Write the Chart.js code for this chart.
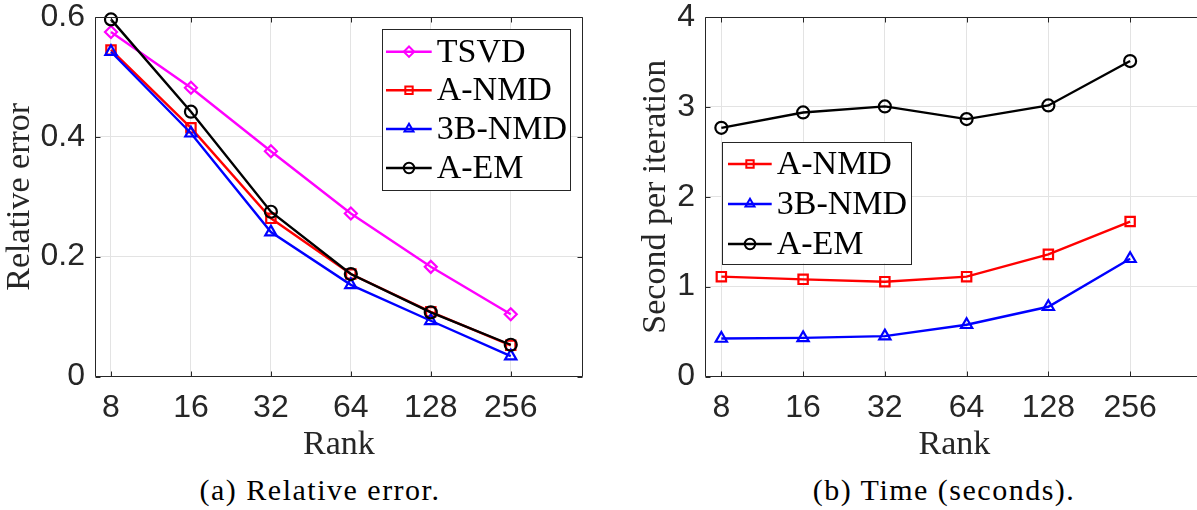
<!DOCTYPE html>
<html><head><meta charset="utf-8">
<script src="https://cdn.jsdelivr.net/npm/chart.js@4.4.1/dist/chart.umd.min.js"></script>
<style>
html,body{margin:0;padding:0;background:#fff;overflow:hidden;width:1197px;height:510px;}
#wrap{position:relative;width:1197px;height:510px;overflow:hidden;}
.cv{position:absolute;top:0;}
.cap{position:absolute;font-family:"Liberation Serif",serif;font-size:30px;letter-spacing:1.5px;color:#000;white-space:nowrap;transform:translate(-50%,-50%);}
</style></head><body>
<div id="wrap">
<div class="cv" style="left:0;width:600px;height:465px"><canvas id="c1"></canvas></div>
<div class="cv" style="left:600px;width:630px;height:465px"><canvas id="c2"></canvas></div>
<div class="cap" style="left:320px;top:490px">(a) Relative error.</div>
<div class="cap" style="left:944px;top:490px">(b) Time (seconds).</div>
</div>
<script>
// ---- data ----
const ranks = ['8', '16', '32', '64', '128', '256'];
// (a) relative error
const errTSVD  = [0.575, 0.482, 0.376, 0.272, 0.183, 0.104];
const errANMD  = [0.545, 0.415, 0.264, 0.171, 0.108, 0.052];
const err3BNMD = [0.542, 0.406, 0.241, 0.153, 0.093, 0.034];
const errAEM   = [0.596, 0.442, 0.275, 0.171, 0.107, 0.053];
// (b) seconds per iteration
const timeANMD  = [1.111, 1.081, 1.055, 1.111, 1.359, 1.724];
const time3BNMD = [0.423, 0.430, 0.449, 0.576, 0.776, 1.310];
const timeAEM   = [2.767, 2.938, 3.005, 2.864, 3.016, 3.510];

const AX = '#262626';
const SANS = '"Liberation Sans", Arial, sans-serif';
const SERIF = '"Liberation Serif", "Times New Roman", serif';

function ds(label, vals, color, style, radius, order) {
  return {
    label, data: vals.map((v, i) => ({x: i, y: v})),
    borderColor: color, backgroundColor: color, borderWidth: 2.4,
    pointStyle: style, pointRadius: radius, pointBorderWidth: 2.2,
    pointBackgroundColor: 'rgba(0,0,0,0)', pointBorderColor: color,
    tension: 0, order, clip: false
  };
}

const framePlugin = {
  id: 'frame',
  afterDatasetsDraw(chart) {
    const {ctx, chartArea: a} = chart;
    const xs = chart.scales.x, ys = chart.scales.y;
    ctx.save();
    ctx.strokeStyle = AX; ctx.lineWidth = 1;
    const L = Math.round(a.left) + 0.5, R = Math.round(a.right) - 0.5;
    const T = Math.round(a.top) + 0.5, B = Math.round(a.bottom) - 0.5;
    ctx.beginPath();
    ctx.rect(L, T, R - L, B - T);
    xs.ticks.forEach(t => {
      const p = Math.round(xs.getPixelForValue(t.value)) + 0.5;
      ctx.moveTo(p, B); ctx.lineTo(p, B - 5);
      ctx.moveTo(p, T); ctx.lineTo(p, T + 5);
    });
    ys.ticks.forEach(t => {
      const p = Math.round(ys.getPixelForValue(t.value)) + 0.5;
      ctx.moveTo(L, p); ctx.lineTo(L + 5, p);
      ctx.moveTo(R, p); ctx.lineTo(R - 5, p);
    });
    ctx.stroke();
    ctx.restore();
  }
};

const legendPlugin = {
  id: 'mlegend',
  afterDraw(chart, args, o) {
    const {ctx} = chart;
    ctx.save();
    ctx.fillStyle = '#fff';
    ctx.fillRect(o.box[0], o.box[1], o.box[2], o.box[3]);
    ctx.strokeStyle = AX; ctx.lineWidth = 1;
    ctx.strokeRect(Math.round(o.box[0]) + 0.5, Math.round(o.box[1]) + 0.5, Math.round(o.box[2]), Math.round(o.box[3]));
    o.items.forEach((idx, r) => {
      const d = chart.data.datasets[idx];
      const y = o.rowY[r];
      ctx.strokeStyle = d.borderColor; ctx.lineWidth = 2.4;
      ctx.beginPath(); ctx.moveTo(o.lineX[0], y); ctx.lineTo(o.lineX[1], y); ctx.stroke();
      ctx.fillStyle = 'rgba(0,0,0,0)';
      ctx.lineWidth = 2;
      Chart.helpers.drawPoint(ctx, {pointStyle: d.pointStyle, radius: o.markR, borderWidth: 2, rotation: 0}, o.markX, y);
      ctx.fillStyle = '#000';
      ctx.font = '34px ' + SERIF;
      ctx.textBaseline = 'middle'; ctx.textAlign = 'left';
      ctx.fillText(d.label, o.textX, y + 1);
    });
    ctx.restore();
  }
};

function makeOptions(cfg) {
  return {
    responsive: true, maintainAspectRatio: false, animation: false,
    layout: {padding: {top: 17, right: cfg.padRight, left: 0, bottom: 0}},
    plugins: {legend: {display: false}, tooltip: {enabled: false}, mlegend: cfg.legend},
    events: [],
    scales: {
      x: {
        type: 'linear', min: -0.2, max: 5.9,
        afterBuildTicks: s => { s.ticks = ranks.map((_, i) => ({value: i})); },
        afterFit: s => { s.height = 88.5; s.paddingLeft = 0; s.paddingRight = 0; },
        ticks: {callback: v => ranks[v] !== undefined ? ranks[v] : '', autoSkip: false, maxRotation: 0,
                font: {family: SANS, size: 32}, color: AX, padding: 12},
        grid: {color: '#e3e3e3', lineWidth: 1, drawTicks: false},
        border: {display: false},
        title: {display: true, text: 'Rank', font: {family: SERIF, size: 34}, color: AX, padding: {top: 0, bottom: 0}}
      },
      y: {
        min: cfg.ymin, max: cfg.ymax,
        afterFit: s => { s.width = cfg.yw; s.paddingTop = 0; s.paddingBottom = 0; },
        ticks: {stepSize: cfg.step, font: {family: SANS, size: 32}, color: AX, padding: 10},
        grid: {color: '#e3e3e3', lineWidth: 1, drawTicks: false},
        border: {display: false},
        title: {display: true, text: cfg.ytitle, font: {family: SERIF, size: 34}, color: AX, padding: {top: cfg.ytPad, bottom: 0}}
      }
    }
  };
}

new Chart(document.getElementById('c1'), {
  type: 'line',
  data: {datasets: [
    ds('TSVD', errTSVD, '#ff00ff', 'rectRot', 6, 3),
    ds('A-NMD', errANMD, '#ff0000', 'rect', 6.6, 2),
    ds('3B-NMD', err3BNMD, '#0000ff', 'triangle', 6.5, 1),
    ds('A-EM', errAEM, '#000000', 'circle', 6, 0)
  ]},
  options: makeOptions({
    padRight: 17.3, ymin: 0, ymax: 0.6, step: 0.2, yw: 95, ytitle: 'Relative error', ytPad: 0,
    legend: {box: [381.7, 29.3, 188.3, 160.7], items: [0, 1, 2, 3], rowY: [51.7, 90.3, 129, 168],
             lineX: [386, 431.7], markX: 409, markR: 5.2, textX: 436.7}
  }),
  plugins: [framePlugin, legendPlugin]
});

new Chart(document.getElementById('c2'), {
  type: 'line',
  data: {datasets: [
    ds('A-NMD', timeANMD, '#ff0000', 'rect', 6.6, 2),
    ds('3B-NMD', time3BNMD, '#0000ff', 'triangle', 6.5, 1),
    ds('A-EM', timeAEM, '#000000', 'circle', 6, 0)
  ]},
  options: makeOptions({
    padRight: 26.3, ymin: 0, ymax: 4, step: 1, yw: 105, ytitle: 'Second per iteration', ytPad: 36,
    legend: {box: [122.3, 141.7, 188.7, 121.6], items: [0, 1, 2], rowY: [164, 204, 244],
             lineX: [128, 171.7], markX: 150, markR: 5.2, textX: 176.7}
  }),
  plugins: [framePlugin, legendPlugin]
});
</script>
</body></html>
